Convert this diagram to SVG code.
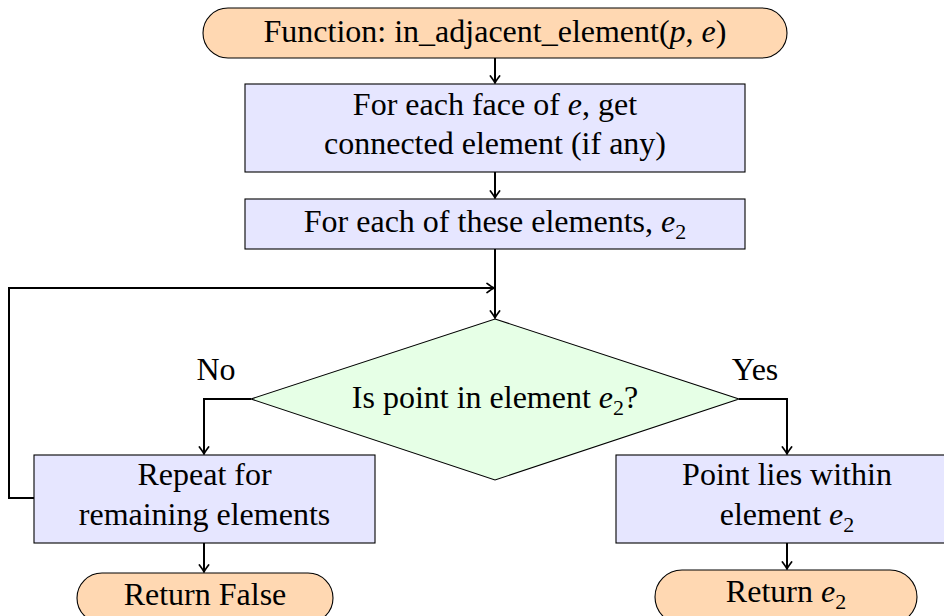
<svg xmlns="http://www.w3.org/2000/svg" width="944" height="616" viewBox="0 0 944 616">
  <style>
    .term { fill: #ffd8b2; stroke: #000; stroke-width: 1.1; }
    .proc { fill: #e6e6ff; stroke: #000; stroke-width: 1.1; }
    .dec  { fill: #e6ffe6; stroke: #000; stroke-width: 1.1; }
    text { font-family: "Liberation Serif", "Times New Roman", serif; font-size: 32px; fill: #000; text-anchor: middle; }
    .it { font-style: italic; }
    .sub { font-size: 22px; }
    .conn { fill: none; stroke: #000; stroke-width: 2; }
  </style>
  <defs>
    <marker id="arrow" viewBox="-8 -6 10 12" markerWidth="10" markerHeight="12" refX="0" refY="0" orient="auto" markerUnits="userSpaceOnUse">
      <path d="M -7,-4.6 Q -2.2,-1 0,0 Q -2.2,1 -7,4.6" fill="none" stroke="#000" stroke-width="1.7" stroke-linecap="round"/>
    </marker>
  </defs>

  <!-- connectors -->
  <g id="connectors" class="conn">
    <path d="M495,58 V83" marker-end="url(#arrow)"/>
    <path d="M495,172 V198" marker-end="url(#arrow)"/>
    <path d="M495,249 V318" marker-end="url(#arrow)"/>
    <path d="M34,498 H9 V288 H494" marker-end="url(#arrow)"/>
    <path d="M251,399 H204 V454" marker-end="url(#arrow)"/>
    <path d="M739,399 H787 V454" marker-end="url(#arrow)"/>
    <path d="M204,543 V572" marker-end="url(#arrow)"/>
    <path d="M787,543 V569" marker-end="url(#arrow)"/>
  </g>

  <!-- start terminal -->
  <g id="start">
    <rect class="term" x="203" y="8" width="584" height="50" rx="25" ry="25"/>
    <text x="495" y="42">Function:  in_adjacent_element(<tspan class="it">p</tspan>, <tspan class="it">e</tspan>)</text>
  </g>

  <!-- neighbour lookup -->
  <g id="faces">
    <rect class="proc" x="245" y="84" width="500" height="88"/>
    <text x="495" y="115">For each face of <tspan class="it">e</tspan>, get</text>
    <text x="495" y="154">connected element (if any)</text>
  </g>

  <!-- loop over neighbours -->
  <g id="each">
    <rect class="proc" x="245" y="199" width="500" height="50"/>
    <text x="495" y="232">For each of these elements, <tspan class="it">e</tspan><tspan class="sub" dy="7">2</tspan></text>
  </g>

  <!-- containment test -->
  <g id="test">
    <polygon class="dec" points="495,319 739,399 495,480 251,399"/>
    <text x="495" y="408">Is point in element <tspan class="it">e</tspan><tspan class="sub" dy="7">2</tspan><tspan dy="-7">?</tspan></text>
    <text x="216" y="380">No</text>
    <text x="755" y="380">Yes</text>
  </g>

  <!-- no branch -->
  <g id="repeat">
    <rect class="proc" x="34" y="455" width="341" height="88"/>
    <text x="204.5" y="485">Repeat for</text>
    <text x="204.5" y="525">remaining elements</text>
  </g>

  <!-- yes branch -->
  <g id="found">
    <rect class="proc" x="616" y="455" width="342" height="88"/>
    <text x="787" y="485">Point lies within</text>
    <text x="787" y="525">element <tspan class="it">e</tspan><tspan class="sub" dy="7">2</tspan></text>
  </g>

  <!-- end terminals -->
  <g id="return-false">
    <rect class="term" x="77" y="573" width="256" height="50" rx="25" ry="25"/>
    <text x="205" y="605">Return False</text>
  </g>
  <g id="return-e2">
    <rect class="term" x="655" y="570" width="262" height="54" rx="27" ry="27"/>
    <text x="786" y="602">Return <tspan class="it">e</tspan><tspan class="sub" dy="7">2</tspan></text>
  </g>
</svg>
